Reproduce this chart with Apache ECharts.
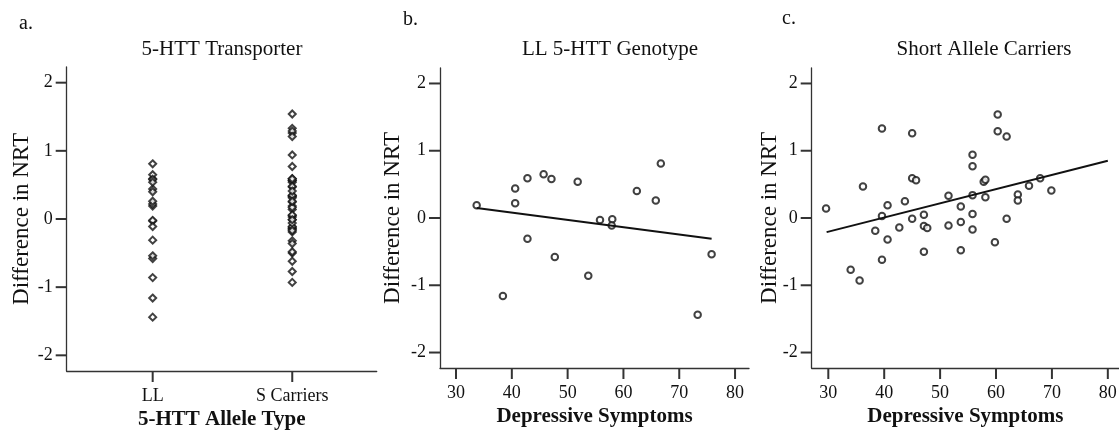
<!DOCTYPE html>
<html>
<head>
<meta charset="utf-8">
<script src="https://cdn.jsdelivr.net/npm/echarts@6/dist/echarts.min.js"></script>
<style>html,body{margin:0;padding:0;background:#fff;}#c{width:1119px;height:431px;}</style>
</head>
<body>
<div id="c"></div>
<script>
// ---- data ----
var titles = ['5-HTT Transporter', 'LL 5-HTT Genotype', 'Short Allele Carriers'];
var panelLetters = ['a.', 'b.', 'c.'];
var groupLabels = ['LL', 'S Carriers'];
var groupPos = [1, 2];
var yTicks = [-2, -1, 0, 1, 2];
var xTicks = [30, 40, 50, 60, 70, 80];

// LL genotype: depressive symptoms (x) and difference in NRT (y)
var llX = [33.7, 40.6, 40.6, 42.8, 42.8, 38.4, 45.7, 47.1, 47.7, 51.8, 53.7, 55.8, 58.0, 57.9, 62.4, 65.8, 66.7, 73.3, 75.8];
var llY = [0.19, 0.44, 0.22, 0.59, -0.31, -1.16, 0.65, 0.58, -0.58, 0.54, -0.86, -0.03, -0.02, -0.11, 0.40, 0.26, 0.81, -1.44, -0.54];

// Short allele carriers
var sX = [29.6, 39.6, 45.0, 36.2, 34.0, 35.6, 38.4, 39.6, 40.6, 40.6, 39.6, 42.7, 43.7, 45.0, 45.7, 45.0, 47.1, 47.1, 47.7, 47.1, 51.5, 51.5, 53.7, 53.7, 53.7, 55.8, 55.8, 55.8, 55.8, 55.8, 57.8, 58.1, 58.1, 60.3, 60.3, 61.9, 59.8, 61.9, 63.9, 63.9, 65.9, 67.9, 69.9];
var sY = [0.14, 1.33, 1.26, 0.47, -0.77, -0.93, -0.19, 0.03, 0.19, -0.32, -0.62, -0.14, 0.25, 0.59, 0.56, -0.01, 0.05, -0.12, -0.15, -0.50, 0.33, -0.11, 0.17, -0.06, -0.48, 0.94, 0.77, 0.34, 0.06, -0.17, 0.54, 0.57, 0.31, 1.54, 1.29, 1.21, -0.36, -0.01, 0.35, 0.26, 0.48, 0.59, 0.41];

// fit lines (end points)
var fitLLx = [33.7, 75.8], fitLLy = [0.15, -0.31];
var fitSx = [29.7, 80.0], fitSy = [-0.21, 0.85];

// ---- build ----
function pairs(xs, ys) { return xs.map(function (v, i) { return [v, ys[i]]; }); }
function constPairs(c, ys) { return ys.map(function (v) { return [c, v]; }); }

var FONT = 'Liberation Serif';
var AX = '#333333';
var TXT = '#111';
var TICK_LEN = 11;
var TICK_W = 2;

var xRanges = [[0.384, 2.605], [27.13, 82.5], [27.03, 82.0]];
var yRange = [-2.23, 2.23];
var xTickSets = [groupPos, xTicks, xTicks];

function yAxisCfg(gi, gap) {
  return {
    type: 'value', gridIndex: gi, min: yRange[0], max: yRange[1],
    name: 'Difference in NRT', nameLocation: 'middle', nameGap: gap, nameMoveOverlap: false,
    nameTextStyle: { fontFamily: FONT, fontSize: 23, color: TXT },
    axisLine: { show: true, onZero: false, lineStyle: { color: AX, width: 1.3 } },
    axisTick: { show: false },
    axisLabel: { margin: 14, fontFamily: FONT, fontSize: 18, color: TXT, customValues: yTicks },
    splitLine: { show: false }
  };
}
function xAxisCfg(gi, name, fmt) {
  return {
    type: 'value', gridIndex: gi, min: xRanges[gi][0], max: xRanges[gi][1],
    name: name, nameLocation: 'middle', nameGap: 38, nameMoveOverlap: false,
    nameTextStyle: { fontFamily: FONT, fontSize: 21, fontWeight: 'bold', color: TXT },
    axisLine: { show: true, onZero: false, lineStyle: { color: AX, width: 1.3 } },
    axisTick: { show: false },
    axisLabel: { margin: 16, fontFamily: FONT, fontSize: 18, color: TXT, customValues: xTickSets[gi], formatter: fmt },
    splitLine: { show: false }
  };
}

// tick marks: a custom series places a small filled rect at each tick value, via the axis scales
function tickSeries(gi, isY) {
  var vals = isY ? yTicks : xTickSets[gi];
  return {
    type: 'custom', coordinateSystem: 'cartesian2d', xAxisIndex: gi, yAxisIndex: gi, clip: false,
    data: vals.map(function (v) { return isY ? [xRanges[gi][0], v] : [v, yRange[0]]; }),
    renderItem: function (params, api) {
      var p = api.coord([api.value(0), api.value(1)]);
      var shape = isY
        ? { x: p[0] - TICK_LEN, y: p[1] - TICK_W / 2, width: TICK_LEN, height: TICK_W }
        : { x: p[0] - TICK_W / 2, y: p[1], width: TICK_W, height: TICK_LEN };
      return { type: 'rect', shape: shape, style: { fill: AX } };
    }
  };
}

var titleStyle = { fontFamily: FONT, fontSize: 21, fontWeight: 'normal', color: TXT };
var letterStyle = { fontFamily: FONT, fontSize: 20, fontWeight: 'normal', color: TXT };

var option = {
  backgroundColor: '#fff',
  animation: false,
  title: [
    { text: titles[0], left: 217, top: 34, textAlign: 'center', textStyle: titleStyle },
    { text: titles[1], left: 605, top: 34, textAlign: 'center', textStyle: titleStyle },
    { text: titles[2], left: 979, top: 34, textAlign: 'center', textStyle: titleStyle },
    { text: panelLetters[0], left: 14, top: 9, textStyle: letterStyle },
    { text: panelLetters[1], left: 398, top: 5, textStyle: letterStyle },
    { text: panelLetters[2], left: 777, top: 4, textStyle: letterStyle }
  ],
  grid: [
    { left: 66.7, top: 67, width: 310, height: 304, outerBoundsMode: 'none', containLabel: false },
    { left: 440, top: 68, width: 309, height: 300, outerBoundsMode: 'none', containLabel: false },
    { left: 811.7, top: 68, width: 307.3, height: 300, outerBoundsMode: 'none', containLabel: false }
  ],
  xAxis: [
    xAxisCfg(0, '5-HTT Allele Type', function (v) { var i = groupPos.indexOf(v); return i >= 0 ? groupLabels[i] : ''; }),
    xAxisCfg(1, 'Depressive Symptoms'),
    xAxisCfg(2, 'Depressive Symptoms')
  ],
  yAxis: [yAxisCfg(0, 33), yAxisCfg(1, 36), yAxisCfg(2, 30)],
  series: [
    { type: 'scatter', xAxisIndex: 0, yAxisIndex: 0, data: constPairs(groupPos[0], llY), symbol: 'emptyDiamond', symbolSize: 7, itemStyle: { color: '#111', borderWidth: 1.6 } },
    { type: 'scatter', xAxisIndex: 0, yAxisIndex: 0, data: constPairs(groupPos[1], sY), symbol: 'emptyDiamond', symbolSize: 7, itemStyle: { color: '#111', borderWidth: 1.6 } },
    { type: 'scatter', xAxisIndex: 1, yAxisIndex: 1, data: pairs(llX, llY), symbol: 'emptyCircle', symbolSize: 6.5, itemStyle: { color: '#111', borderWidth: 1.5 } },
    { type: 'line', xAxisIndex: 1, yAxisIndex: 1, data: pairs(fitLLx, fitLLy), symbol: 'none', lineStyle: { color: '#111', width: 2 } },
    { type: 'scatter', xAxisIndex: 2, yAxisIndex: 2, data: pairs(sX, sY), symbol: 'emptyCircle', symbolSize: 6.5, itemStyle: { color: '#111', borderWidth: 1.5 } },
    { type: 'line', xAxisIndex: 2, yAxisIndex: 2, data: pairs(fitSx, fitSy), symbol: 'none', lineStyle: { color: '#111', width: 2 } },
    tickSeries(0, true), tickSeries(1, true), tickSeries(2, true),
    tickSeries(0, false), tickSeries(1, false), tickSeries(2, false)
  ]
};

var chart = echarts.init(document.getElementById('c'), null, { renderer: 'canvas' });
chart.setOption(option);
</script>
</body>
</html>
